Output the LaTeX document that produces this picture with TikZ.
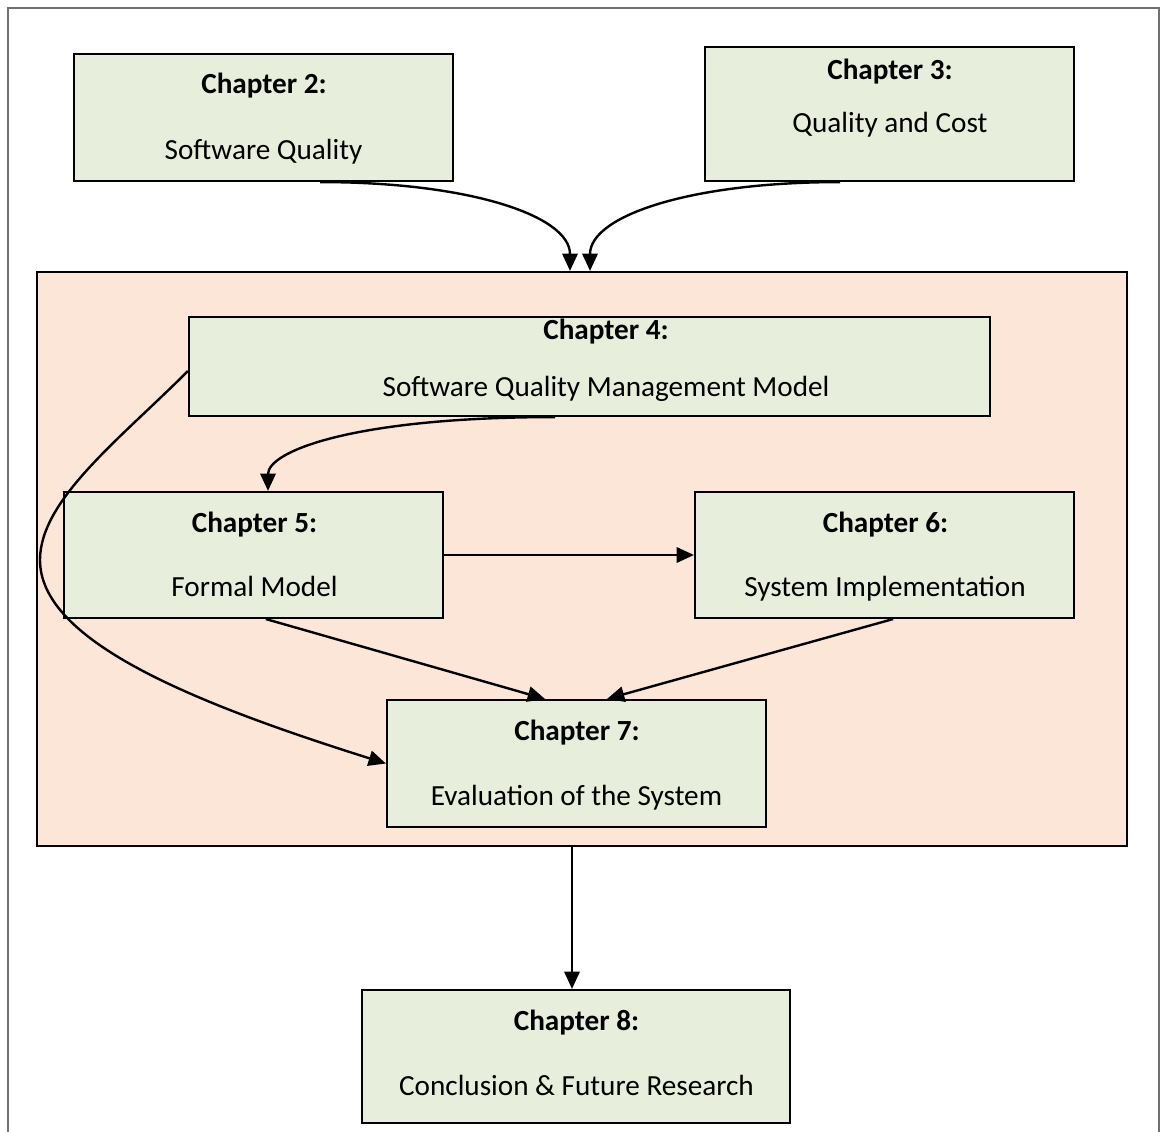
\documentclass[tikz,border=0pt]{standalone}
\usepackage{fontspec}
\setmainfont{Carlito}
\usetikzlibrary{arrows.meta,calc}
\definecolor{boxgreen}{RGB}{231,238,219}
\definecolor{grouppink}{RGB}{251,230,216}
\definecolor{framegray}{RGB}{112,112,112}
\tikzset{
  chapbox/.style={draw=black,line width=1.6pt,fill=boxgreen,rectangle,inner sep=0pt},
  groupbox/.style={draw=black,line width=1.6pt,fill=grouppink,rectangle,inner sep=0pt},
  headtxt/.style={anchor=base,inner sep=0pt,font=\fontsize{21.9}{26}\selectfont\bfseries},
  bodytxt/.style={anchor=base,inner sep=0pt,font=\fontsize{21.9}{26}\selectfont},
  flow/.style={line width=1.8pt,-{Triangle[length=13pt,width=11.5pt]}},
  flowline/.style={line width=1.8pt}
}
\begin{document}
\begin{tikzpicture}[x=0.75pt,y=-0.75pt]
\useasboundingbox (0,0) rectangle (1162,1131);
% outer frame (open towards the bottom of the page)
\draw[framegray,line width=1.2pt] (8,1140) -- (8,8) -- (1159,8) -- (1159,1140);

% grouping panel for chapters 4-7
\node[groupbox,minimum width=817.5pt,minimum height=430.5pt] (grp) at (582,559) {};

% chapter boxes
\node[chapbox,minimum width=284.25pt,minimum height=95.25pt] (c2) at (263.5,117.5) {};
\node[chapbox,minimum width=276.75pt,minimum height=100.5pt] (c3) at (889.5,114) {};
\node[chapbox,minimum width=600.75pt,minimum height=74.25pt] (c4) at (589.5,366.5) {};
\node[chapbox,minimum width=284.25pt,minimum height=94.5pt] (c5) at (253.5,555) {};
\node[chapbox,minimum width=284.25pt,minimum height=94.5pt] (c6) at (884.5,555) {};
\node[chapbox,minimum width=284.25pt,minimum height=95.25pt] (c7) at (576.5,763.5) {};
\node[chapbox,minimum width=321pt,minimum height=99.75pt] (c8) at (576,1056.5) {};

% chapter titles
\node[headtxt] (c2h) at (264,93.5) {Chapter 2:};
\node[bodytxt] (c2t) at (263.5,159.5) {Software Quality};
\node[headtxt] (c3h) at (890,79.5) {Chapter 3:};
\node[bodytxt] (c3t) at (890,132.5) {Quality and Cost};
\node[headtxt] (c4h) at (606,339.5) {Chapter 4:};
\node[bodytxt] (c4t) at (606,396.5) {Software Quality Management Model};
\node[headtxt] (c5h) at (254.5,532.5) {Chapter 5:};
\node[bodytxt] (c5t) at (254.5,596.5) {Formal Model};
\node[headtxt] (c6h) at (885.5,532.5) {Chapter 6:};
\node[bodytxt] (c6t) at (885,596.5) {System Implementation};
\node[headtxt] (c7h) at (577,740.5) {Chapter 7:};
\node[bodytxt] (c7t) at (576.5,805.5) {Evaluation of the System};
\node[headtxt] (c8h) at (576.5,1030.5) {Chapter 8:};
\node[bodytxt] (c8t) at (576.5,1095.5) {Conclusion \& Future Research};

% connectors
\draw[flow] ($(c2.south)+(56.5,0)$) .. controls +(150,0) and +(0,-55) .. ($(grp.north)+(-12,0)$);
\draw[flow] ($(c3.south)+(-49.5,0)$) .. controls +(-150,0) and +(0,-55) .. ($(grp.north)+(8,0)$);
\draw[flow] ($(c4.south)+(-34.5,0)$) .. controls +(-200,0) and +(0,-40) .. ($(c5.north)+(14.5,0)$);
\draw[flow] (c5.east) -- (c6.west);
\draw[flow] ($(c5.south)+(12.5,0)$) -- ($(c7.north)+(-31.5,0)$);
\draw[flow] ($(c6.south)+(8.5,0)$) -- ($(c7.north)+(30.5,0)$);
\coordinate (loopturn) at (40,560);
\draw[flowline] ($(c4.west)+(0,4.5)$) .. controls +(-69,69) and +(0,-60) .. (loopturn);
\draw[flow] (loopturn) .. controls +(0,80) and +(-197,-62) .. (c7.west);
\draw[flow] ($(grp.south)+(-10,0)$) -- ($(c8.north)+(-4,0)$);
\end{tikzpicture}
\end{document}
